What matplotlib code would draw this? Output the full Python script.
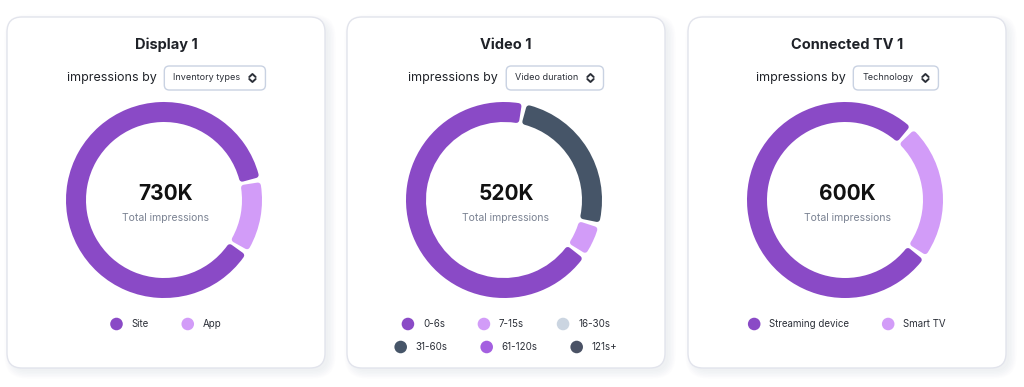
import matplotlib
matplotlib.use("Agg")
import matplotlib.pyplot as plt
from matplotlib.patches import FancyBboxPatch

plt.rcParams['font.family'] = ['Inter', 'DejaVu Sans']

W, H = 1024, 387

# Card headings
TITLES = ["Display 1", "Video 1", "Connected TV 1"]
GROUP_BY = ["Inventory types", "Video duration", "Technology"]
TOTALS = ["730K", "520K", "600K"]

# Display 1 (thousands of impressions)
DISPLAY_LABELS = ["Site", "App"]
DISPLAY_VALUES = [640, 90]
DISPLAY_COLORS = ["#8A4AC6", "#D29CF8"]

# Video 1
VIDEO_LABELS = ["0-6s", "7-15s", "16-30s", "31-60s", "61-120s", "121s+"]
VIDEO_VALUES = [357, 29, 0, 134, 0, 0]
VIDEO_COLORS = ["#8A4AC6", "#D29CF8", "#CBD5E1", "#465568", "#A460E0", "#4A5265"]

# Connected TV 1
CTV_LABELS = ["Streaming device", "Smart TV"]
CTV_VALUES = [462, 138]
CTV_COLORS = ["#8A4AC6", "#D29CF8"]

START_ANGLES = [12, 78, 47]
LEGEND_ROWS = [[2], [3, 3], [2]]

# layout (pixels)
CARD_X = [7, 347, 688]
CARD_W = 318
CARD_TOP, CARD_BOTTOM = 17, 368
DONUT_Y = 200
DONUT_R = 98
RING = 20

fig = plt.figure(figsize=(W / 100, H / 100), dpi=100)
fig.patch.set_facecolor("white")
bg = fig.add_axes([0, 0, 1, 1])
bg.set_xlim(0, W)
bg.set_ylim(H, 0)
bg.axis("off")
renderer = fig.canvas.get_renderer()


def text_width(t):
    # width of a text artist in pixels
    return t.get_window_extent(renderer=renderer).width


def draw_chevrons(cx, cy):
    for sgn in (-1, 1):
        y0 = cy + sgn * 1.0
        bg.plot([cx - 3.2, cx, cx + 3.2], [y0, y0 + sgn * 3.0, y0],
                color="#2b2f38", lw=1.4, solid_capstyle="round",
                solid_joinstyle="round", zorder=6)


def draw_card(i, labels, values, colors):
    x0 = CARD_X[i]
    cx = x0 + CARD_W / 2
    h = CARD_BOTTOM - CARD_TOP

    # soft shadow, mostly to the right and below
    for k in range(6):
        bg.add_patch(FancyBboxPatch((x0 + 5, CARD_TOP + 5), CARD_W - 2, h - 2,
                                    boxstyle=f"round,pad={k * 1.5},rounding_size={15 + k * 1.5}",
                                    fc="#8d93a8", ec="none", alpha=0.02, zorder=1))
    bg.add_patch(FancyBboxPatch((x0, CARD_TOP), CARD_W, h,
                                boxstyle="round,pad=0,rounding_size=15",
                                fc="white", ec="#e2e4ec", lw=1.0, zorder=2))

    bg.text(cx, 45, TITLES[i], ha="center", va="center", fontsize=10.5,
            fontweight="bold", color="#1f2228", zorder=3)

    # "impressions by" + dropdown
    t1 = bg.text(0, 78, "impressions by", ha="left", va="center",
                 fontsize=9, color="#1f2228", zorder=3)
    t2 = bg.text(0, 78, GROUP_BY[i], ha="left", va="center",
                 fontsize=6.5, color="#2b2f38", zorder=4)
    w1, w2 = text_width(t1), text_width(t2)
    box_w = 9 + w2 + 8 + 8 + 9
    total = w1 + 8 + box_w
    left = cx - total / 2
    t1.set_x(left)
    bx = left + w1 + 8
    bg.add_patch(FancyBboxPatch((bx, 66), box_w, 24,
                                boxstyle="round,pad=0,rounding_size=5",
                                fc="white", ec="#c9d2e2", lw=1.0, zorder=3))
    t2.set_x(bx + 9)
    draw_chevrons(bx + box_w - 13, 78)

    # donut
    dcx = cx - 2
    ax = fig.add_axes([(dcx - 100) / W, (H - DONUT_Y - 100) / H, 200 / W, 200 / H])
    wedges, _ = ax.pie(values, colors=colors, startangle=START_ANGLES[i],
                       counterclock=True, radius=DONUT_R / 100,
                       wedgeprops=dict(width=RING / 100))
    ax.set_xlim(-1, 1)
    ax.set_ylim(-1, 1)
    ax.axis("off")
    # shrink each segment and stroke it in its own colour -> rounded corners + gaps
    edge = 3.0
    r_mid = DONUT_R - RING / 2
    trim = (2.0 + edge) / r_mid * 180 / 3.14159
    for w, v, c in zip(wedges, values, colors):
        if v == 0:
            w.set_visible(False)
            continue
        t_a, t_b = w.theta1, w.theta2
        w.set_theta1(t_a + trim)
        w.set_theta2(t_b - trim)
        w.set_radius((DONUT_R - edge) / 100)
        w.set_width((RING - 2 * edge) / 100)
        w.set_edgecolor(c)
        w.set_linewidth(2 * edge * 0.72)
        w.set_joinstyle("round")

    bg.text(dcx + 2, 194, TOTALS[i], ha="center", va="center", fontsize=15,
            fontweight="bold", color="#111111", zorder=3)
    bg.text(dcx + 2, 218, "Total impressions", ha="center", va="center",
            fontsize=7.5, color="#7a8292", zorder=3)

    # legend, rows centred in the card
    idx = 0
    for r, n in enumerate(LEGEND_ROWS[i]):
        y = 324 + r * 23
        items = []
        for j in range(idx, idx + n):
            t = bg.text(0, y, labels[j], ha="left", va="center", fontsize=7,
                        color="#2b2f38", zorder=3)
            items.append((t, colors[j], text_width(t)))
        gap = 33
        row_w = sum(12 + 9 + tw for _, _, tw in items) + gap * (n - 1)
        x = cx - row_w / 2
        for t, c, tw in items:
            bg.scatter([x + 6], [y], s=82, color=c, edgecolors="none", zorder=3)
            t.set_x(x + 21)
            x += 21 + tw + gap
        idx += n


draw_card(0, DISPLAY_LABELS, DISPLAY_VALUES, DISPLAY_COLORS)
draw_card(1, VIDEO_LABELS, VIDEO_VALUES, VIDEO_COLORS)
draw_card(2, CTV_LABELS, CTV_VALUES, CTV_COLORS)

fig.savefig("out.png", dpi=100, facecolor="white")
